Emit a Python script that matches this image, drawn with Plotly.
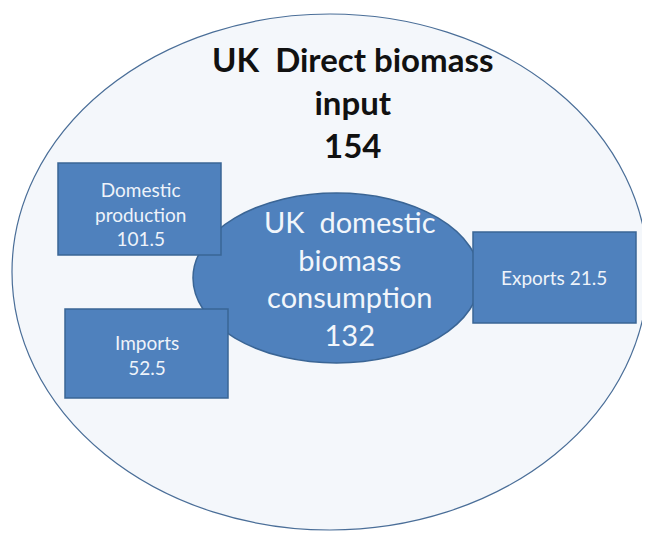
import plotly.graph_objects as go

# Data
total_label = "UK  Direct biomass<br>input"
total_value = 154
consumption_label = "UK  domestic<br>biomass<br>consumption"
consumption_value = 132
flow_labels = ["Domestic<br>production", "Imports", "Exports"]
flow_values = [101.5, 52.5, 21.5]
flow_sep = ["<br>", "<br>", " "]

# Layout geometry (page pixel coordinates, y downwards)
W, H = 650, 534
OFF = 8  # default page body margin
boxes = [(58, 163, 221, 255), (65, 309, 228, 398), (473, 232, 636, 323)]
box_text_pos = [(140, 214), (147, 355), (554, 277)]

fill_blue = "#4f81bd"
edge_blue = "#3a6595"
font = "Lato, 'Open Sans', sans-serif"

fig = go.Figure()
fig.add_trace(go.Scatter(x=[OFF, W], y=[OFF, H], mode="markers",
                         marker=dict(opacity=0), hoverinfo="skip", showlegend=False))

shapes = [
    dict(type="circle", xref="x", yref="y", x0=12, y0=14, x1=648, y1=530,
         fillcolor="#f4f7fb", line=dict(color="#4a6e98", width=1.2), layer="below"),
    dict(type="circle", xref="x", yref="y", x0=193, y0=193, x1=480, y1=363,
         fillcolor=fill_blue, line=dict(color=edge_blue, width=1.5), layer="below"),
]
for (x0, y0, x1, y1) in boxes:
    shapes.append(dict(type="rect", xref="x", yref="y", x0=x0, y0=y0, x1=x1, y1=y1,
                       fillcolor=fill_blue, line=dict(color=edge_blue, width=1.5), layer="below"))

annotations = [
    dict(x=352, y=102, xref="x", yref="y",
         text=f"<b>{total_label}<br>{total_value}</b>", showarrow=False,
         font=dict(family=font, size=33, color="#111111"), align="center"),
    dict(x=350, y=278, xref="x", yref="y",
         text=f"{consumption_label}<br>{consumption_value}", showarrow=False,
         font=dict(family=font, size=29, color="#f2f6fb"), align="center"),
]
for lbl, val, sep, (tx, ty) in zip(flow_labels, flow_values, flow_sep, box_text_pos):
    annotations.append(dict(x=tx, y=ty, xref="x", yref="y", text=f"{lbl}{sep}{val}",
                            showarrow=False, align="center",
                            font=dict(family=font, size=19, color="#eef3fa")))

fig.update_layout(
    width=W - OFF, height=H - OFF, autosize=False,
    margin=dict(l=0, r=0, t=0, b=0),
    paper_bgcolor="white", plot_bgcolor="white",
    xaxis=dict(range=[OFF, W], visible=False, fixedrange=True),
    yaxis=dict(range=[H, OFF], visible=False, fixedrange=True),
    shapes=shapes, annotations=annotations, showlegend=False,
)
fig.write_html("out.html", config={"displayModeBar": False})
